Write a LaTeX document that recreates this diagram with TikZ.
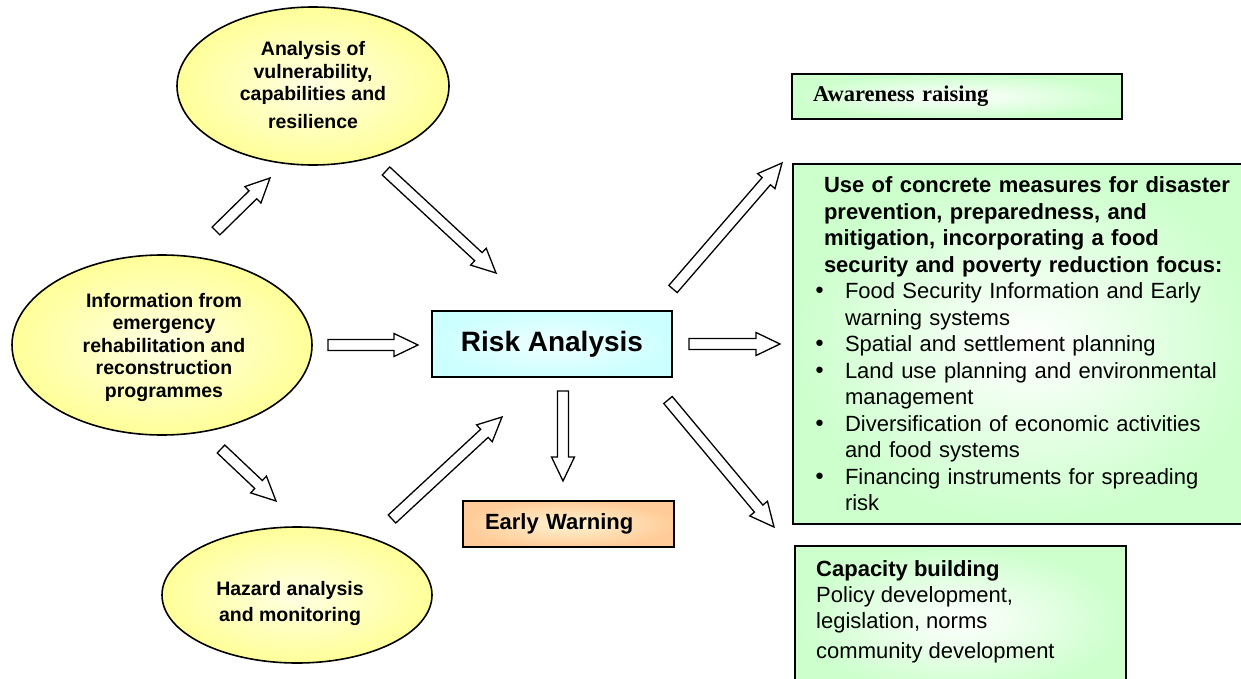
\documentclass[tikz,border=0pt]{standalone}
\usepackage{fontspec}
\setmainfont{Liberation Sans}
\newfontfamily\timesfont{Liberation Serif}
\newfontfamily\bulfont{DejaVu Sans}
\usetikzlibrary{shapes.geometric,calc}

\definecolor{ellyellow}{HTML}{FFFF99}
\definecolor{elllight}{HTML}{FFFFE4}
\definecolor{riskcyan}{HTML}{CCFFFF}
\definecolor{risklight}{HTML}{F0FFFF}
\definecolor{warnorange}{HTML}{FFCC99}
\definecolor{warnlight}{HTML}{FFF4D2}
\definecolor{boxgreen}{HTML}{CCFFCC}

% hollow block arrow from #1 to #2
\newcommand{\blockarrow}[2]{%
   \coordinate (tiphb) at ($(#2)!24pt!(#1)$);
   \draw[blockarr] ($(#1)!5.5pt!90:(#2)$) -- ($(tiphb)!5.5pt!90:(#2)$)
      -- ($(tiphb)!11.5pt!90:(#2)$) -- (#2) -- ($(tiphb)!11.5pt!-90:(#2)$)
      -- ($(tiphb)!5.5pt!-90:(#2)$) -- ($(#1)!5.5pt!-90:(#2)$) -- cycle;}
\newcommand{\itembul}{\makebox[32pt][l]{\bulfont\textbullet}}

\begin{document}
\begin{tikzpicture}
      [x = 1pt, y = -1pt,
      bubble/.style= {
         draw,
         ellipse,
         line width = 1.6pt,
         shading = radial,
         inner color = elllight,
         outer color = ellyellow,
         inner sep = 0pt
      },
      bubbletext/.style= {
         align = center,
         inner sep = 0pt,
         font = \fontsize{19.5}{22.5}\selectfont\bfseries
      },
      panel/.style= {
         draw,
         rectangle,
         line width = 1.8pt,
         inner sep = 0pt
      },
      greenpanel/.style= {
         panel,
         shading = radial,
         inner color = white,
         outer color = boxgreen
      },
      blockarr/.style= {
         draw,
         fill = white,
         line width = 1.3pt,
         line join = miter
      }]

      \useasboundingbox (0, 0) rectangle (1241, 679);

      % ellipses on the left
      \node[bubble, minimum width = 272pt, minimum height = 158pt] (vuln) at (313, 86) {};
      \node[bubbletext] (vulntxt) at (313, 85)
         {Analysis of\\vulnerability,\\capabilities and\\[5pt]resilience};
      \node[bubble, minimum width = 300pt, minimum height = 180pt] (info) at (162, 345) {};
      \node[bubbletext] (infotxt) at (164, 347)
         {Information from\\emergency\\rehabilitation and\\reconstruction\\programmes};
      \node[bubble, minimum width = 270pt, minimum height = 136pt] (hazard) at (297, 595) {};
      \node[bubbletext, font = \fontsize{19.5}{26}\selectfont\bfseries] (hazardtxt) at (290, 603)
         {Hazard analysis\\and monitoring};

      % middle boxes
      \node[panel, shading = radial, inner color = risklight, outer color = riskcyan,
         minimum width = 240pt, minimum height = 66pt,
         font = \fontsize{28}{32}\selectfont\bfseries] (risk) at (552, 344) {Risk Analysis};
      \node[panel, shading = radial, inner color = warnlight, outer color = warnorange,
         minimum width = 211pt, minimum height = 46pt, text width = 167pt, align = left,
         font = \fontsize{22}{26}\selectfont\bfseries] (warn) at (568.5, 524) {Early Warning};

      % boxes on the right
      \node[greenpanel, minimum width = 330pt, minimum height = 45pt, text width = 288pt,
         align = left, font = \timesfont\fontsize{22.5}{26}\selectfont\bfseries]
         (aware) at (957, 96.5) {Awareness raising};
      \node[greenpanel, minimum width = 469pt, minimum height = 360pt, text width = 429pt,
         align = left, font = \fontsize{22}{26.5}\selectfont] (measures) at (1027.5, 344)
         {\hspace*{11pt}\textbf{Use of concrete measures for disaster}\\
          \hspace*{11pt}\textbf{prevention, preparedness, and}\\
          \hspace*{11pt}\textbf{mitigation, incorporating a food}\\
          \hspace*{11pt}\textbf{security and poverty reduction focus:}\\
          \itembul Food Security Information and Early\\
          \hspace*{32pt}warning systems\\
          \itembul Spatial and settlement planning\\
          \itembul Land use planning and environmental\\
          \hspace*{32pt}management\\
          \itembul Diversification of economic activities\\
          \hspace*{32pt}and food systems\\
          \itembul Financing instruments for spreading\\
          \hspace*{32pt}risk};
      \node[greenpanel, minimum width = 331pt, minimum height = 148pt] (capbox) at (960.5, 620) {};
      \node[anchor = north west, inner sep = 0pt, align = left,
         font = \fontsize{22}{26}\selectfont] (captxt) at (816, 560)
         {\textbf{Capacity building}\\Policy development,\\legislation, norms\\[4pt]community development};

      % arrow ends
      \coordinate (iv1) at (216, 231);  \coordinate (iv2) at (270, 178);
      \coordinate (vr1) at (386, 171);  \coordinate (vr2) at (496, 273);
      \coordinate (ir1) at (328, 345);  \coordinate (ir2) at (418, 345);
      \coordinate (ih1) at (221, 449);  \coordinate (ih2) at (276, 501);
      \coordinate (hr1) at (392, 519);  \coordinate (hr2) at (502, 417);
      \coordinate (rw1) at (563, 391);  \coordinate (rw2) at (563, 481);
      \coordinate (ra1) at (673, 289);  \coordinate (ra2) at (782, 163);
      \coordinate (rm1) at (689, 344);  \coordinate (rm2) at (780, 344);
      \coordinate (rc1) at (668, 400);  \coordinate (rc2) at (774, 527);

      \blockarrow{iv1}{iv2}
      \blockarrow{vr1}{vr2}
      \blockarrow{ir1}{ir2}
      \blockarrow{ih1}{ih2}
      \blockarrow{hr1}{hr2}
      \blockarrow{rw1}{rw2}
      \blockarrow{ra1}{ra2}
      \blockarrow{rm1}{rm2}
      \blockarrow{rc1}{rc2}

   \end{tikzpicture}
\end{document}
